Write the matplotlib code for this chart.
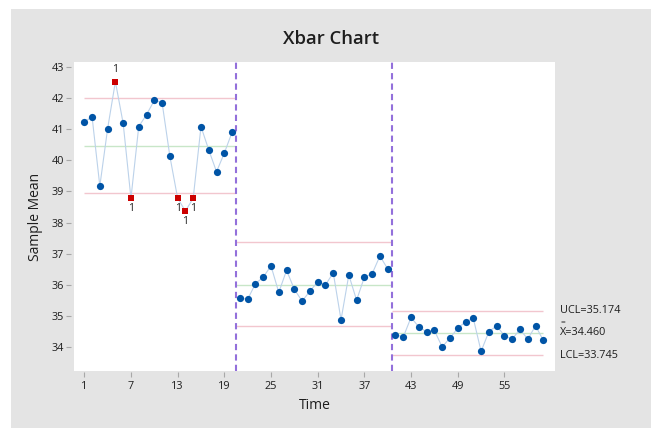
import matplotlib
matplotlib.use("Agg")
import matplotlib.pyplot as plt
from matplotlib.patches import Rectangle
import numpy as np

plt.rcParams['font.family'] = ['Open Sans', 'DejaVu Sans']

# ---- data ----
stage1 = [41.22, 41.40, 39.17, 41.01, 42.52, 41.18, 38.78, 41.08, 41.46, 41.92,
          41.85, 40.13, 38.78, 38.37, 38.78, 41.08, 40.33, 39.63, 40.23, 40.90]
stage2 = [35.58, 35.54, 36.04, 36.25, 36.61, 35.76, 36.47, 35.86, 35.48, 35.80,
          36.10, 36.00, 36.39, 34.88, 36.32, 35.51, 36.25, 36.36, 36.93, 36.51]
stage3 = [34.40, 34.33, 34.96, 34.65, 34.50, 34.54, 34.01, 34.30, 34.61, 34.82,
          34.93, 33.87, 34.50, 34.69, 34.37, 34.26, 34.58, 34.26, 34.69, 34.22]
center_lines = [40.47, 36.01, 34.460]
ucl_values = [42.00, 37.37, 35.174]
lcl_values = [38.94, 34.67, 33.745]
flagged_points = [5, 7, 13, 14, 15]          # test 1 failures (1-based time)
flag_label_above = [True, False, False, False, False]
x_ticks = [1, 7, 13, 19, 25, 31, 37, 43, 49, 55]
y_ticks = [34, 35, 36, 37, 38, 39, 40, 41, 42, 43]

title = "Xbar Chart"
x_label = "Time"
y_label = "Sample Mean"

# ---- style ----
BLUE = '#0054A6'
RED = '#CC0000'
LINE = '#BCD2EA'
LIMIT = '#F2C6CE'
CENTER = '#C8E6C8'
STAGE = '#9370DB'
TEXT = '#1E1E1E'
GRAY = '#E4E4E4'

W, H = 651, 428
fig = plt.figure(figsize=(W / 100, H / 100), dpi=100, facecolor='white')
fig.patches.append(Rectangle((11 / W, 0), 1 - 11 / W, 1 - 9 / H,
                             transform=fig.transFigure, facecolor=GRAY,
                             edgecolor='none', zorder=-10))

ax = fig.add_axes([74 / W, 1 - 371 / H, (555 - 74) / W, (371 - 62) / H])
ax.set_zorder(1)
ax.set_facecolor('white')

stages = [stage1, stage2, stage3]
start = 1
bounds = []
for k, vals in enumerate(stages):
    n = len(vals)
    t = np.arange(start, start + n)
    ax.plot(t, vals, color=LINE, lw=0.8, zorder=2)
    is_flag = np.isin(t, flagged_points)
    v = np.asarray(vals)
    ax.plot(t[~is_flag], v[~is_flag], 'o', color=BLUE, ms=5.2, mec=BLUE,
            mew=0, zorder=4)
    ax.plot(t[is_flag], v[is_flag], 's', color=RED, ms=4.6, mec=RED,
            mew=0, zorder=4)
    x0 = start if k == 0 else start - 0.5
    x1 = start + n - 1 if k == len(stages) - 1 else start + n - 0.5
    ax.hlines([ucl_values[k], lcl_values[k]], x0, x1, color=LIMIT, lw=1, zorder=1)
    ax.hlines(center_lines[k], x0, x1, color=CENTER, lw=1, zorder=1)
    if k < len(stages) - 1:
        bounds.append(start + n - 0.5)
    start += n

for b in bounds:
    ax.axvline(b, color=STAGE, lw=1.5, ls=(0, (3, 2)), zorder=3)

all_vals = stage1 + stage2 + stage3
for p, above in zip(flagged_points, flag_label_above):
    ax.annotate('1', (p, all_vals[p - 1]), xytext=(0, 8.5 if above else -7.5),
                textcoords='offset points', ha='center', va='center',
                fontsize=7.5, color=TEXT, zorder=5)

ax.set_xlim(-0.32, 61.5)
ax.set_ylim(33.24, 43.15)
ax.set_xticks(x_ticks)
ax.set_yticks(y_ticks)
for s in ax.spines.values():
    s.set_visible(False)
ax.spines['left'].set_position(('outward', 2))
ax.spines['bottom'].set_position(('outward', 1))
ax.tick_params(axis='both', direction='out', length=3.5, width=0.8,
               color='#A8A8A8', labelcolor=TEXT, labelsize=7.8)
ax.tick_params(axis='y', pad=1.5)
ax.tick_params(axis='x', pad=3)

ax.set_xlabel(x_label, fontsize=10, color=TEXT, labelpad=4)
ax.set_ylabel(y_label, fontsize=10, color=TEXT, labelpad=6)
fig.text((11 + W) / 2 / W, 1 - 39 / H, title, fontsize=13.3, color=TEXT,
         ha='center', va='center', fontweight='semibold')

# right-hand labels for the last stage
lab_x = 560 / W
trans = matplotlib.transforms.blended_transform_factory(fig.transFigure, ax.transData)
ax.text(lab_x, ucl_values[-1], f"UCL={ucl_values[-1]:.3f}", transform=trans,
        fontsize=7.8, color=TEXT, ha='left', va='center')
ax.text(lab_x, center_lines[-1], f"X={center_lines[-1]:.3f}", transform=trans,
        fontsize=7.8, color=TEXT, ha='left', va='center')
ax.annotate('=', (lab_x, center_lines[-1]), xycoords=trans, xytext=(0.3, 7),
            textcoords='offset points', fontsize=6, color=TEXT,
            ha='left', va='center')
ax.text(lab_x, lcl_values[-1], f"LCL={lcl_values[-1]:.3f}", transform=trans,
        fontsize=7.8, color=TEXT, ha='left', va='center')

fig.savefig('out.png', dpi=100, facecolor='white')
